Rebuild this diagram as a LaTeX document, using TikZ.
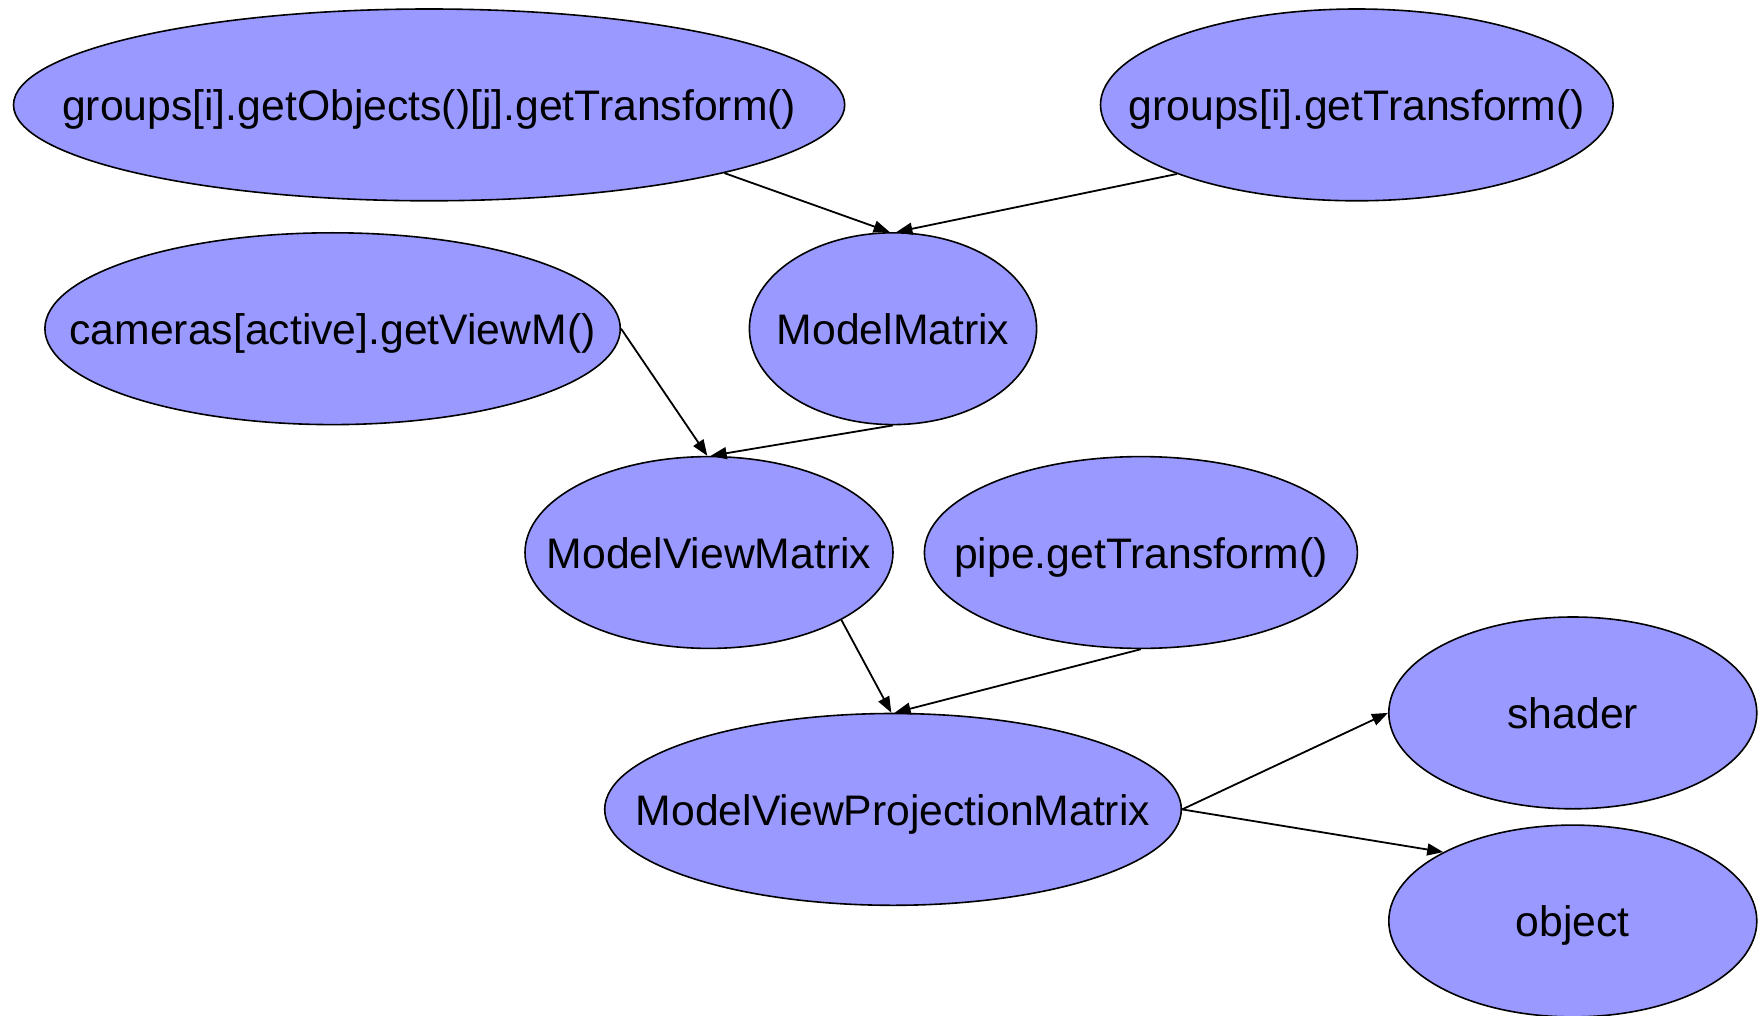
\documentclass[tikz,border=0pt]{standalone}
\usepackage{fontspec}
\setmainfont{Liberation Sans}
\usetikzlibrary{shapes.geometric,arrows.meta}
\definecolor{nodefill}{RGB}{153,153,255}
% label of zero width, so the ellipse keeps its given size
\newcommand{\nodetext}[1]{\makebox[0pt]{#1}}

\begin{document}
\begin{tikzpicture}[x=1pt,y=-1pt,
  gnode/.style={ellipse, draw=black, line width=1.6pt, fill=nodefill,
    inner sep=0pt, minimum height=191.8pt, text height=31.2pt, text depth=0pt,
    font=\fontsize{42.7}{51}\selectfont},
  link/.style={draw=black, line width=1.8pt, -{Triangle[length=16pt,width=12pt]}}]
\useasboundingbox (0,0) rectangle (1759,1016);

% nodes
\node[gnode, minimum width=831.2pt] (g1)  at (429.1,104.9) {\nodetext{groups[i].getObjects()[j].getTransform()}};
\node[gnode, minimum width=512.6pt] (g2)  at (1356.8,104.9) {\nodetext{groups[i].getTransform()}};
\node[gnode, minimum width=575.4pt] (cam) at (332.6,328.7) {\nodetext{cameras[active].getViewM()}};
\node[gnode, minimum width=287.2pt] (mm)  at (893.0,328.7) {\nodetext{ModelMatrix}};
\node[gnode, minimum width=368.0pt] (mvm) at (709.0,552.5) {\nodetext{ModelViewMatrix}};
\node[gnode, minimum width=433.0pt] (pipe) at (1140.9,552.5) {\nodetext{pipe.getTransform()}};
\node[gnode, minimum width=576.6pt] (mvp) at (893.0,809.4) {\nodetext{ModelViewProjectionMatrix}};
\node[gnode, minimum width=368.0pt] (shader) at (1572.8,712.9) {\nodetext{shader}};
\node[gnode, minimum width=368.0pt] (obj) at (1572.8,921.0) {\nodetext{object}};

% connectors
\draw[link] (g1.-13.0) -- (mm.92);
\draw[link] (g2.-159.45) -- (mm.88);
\draw[link] (cam.east) -- (mvm.91);
\draw[link] (mm.south) -- (mvm.89);
\draw[link] (mvm.-27.56) -- (mvp.91);
\draw[link] (pipe.south) -- (mvp.89);
\draw[link] (mvp.east) -- (shader.west);
\draw[link] (mvp.east) -- (obj.152.06);
\end{tikzpicture}
\end{document}
